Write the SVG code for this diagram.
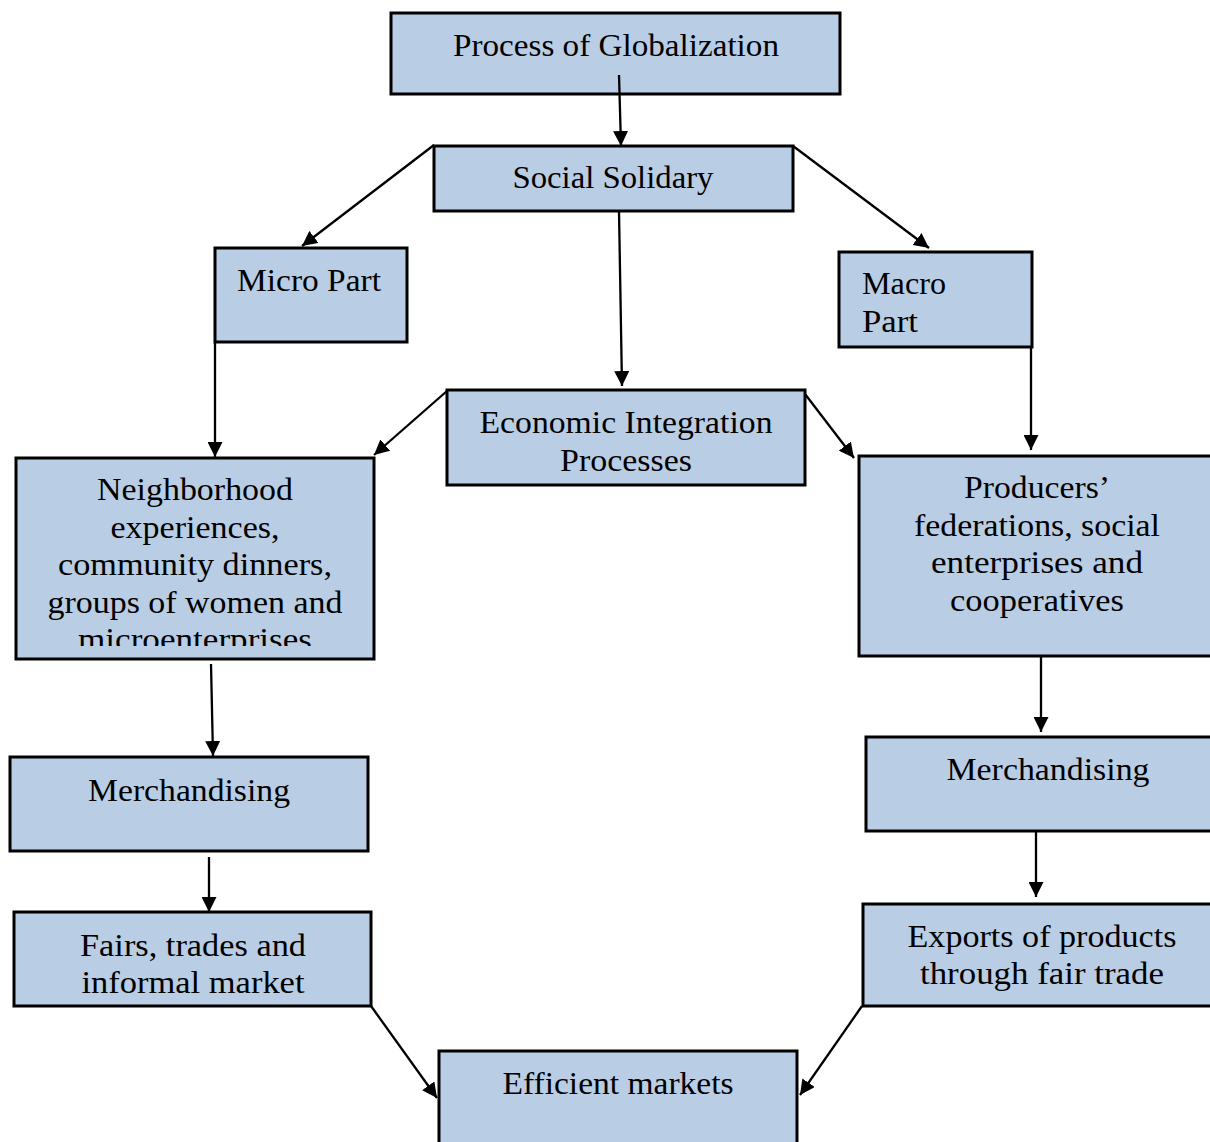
<svg xmlns="http://www.w3.org/2000/svg" width="1210" height="1142" viewBox="0 0 1210 1142">
<style>
.box{fill:#b9cde4;stroke:#000;stroke-width:3}
.t{font-family:"Liberation Serif","DejaVu Serif",serif;font-size:31px;fill:#000;text-anchor:middle}
.tl{font-family:"Liberation Serif","DejaVu Serif",serif;font-size:31px;fill:#000}
.c{stroke:#000;stroke-width:2.3;fill:none;marker-end:url(#ah)}
</style>
<defs>
<marker id="ah" viewBox="0 0 10 10" refX="10" refY="5" markerUnits="userSpaceOnUse" markerWidth="15" markerHeight="15" orient="auto">
<path d="M0,0 L10,5 L0,10 z" fill="#000"/>
</marker>
<clipPath id="clipN"><rect x="0" y="440" width="400" height="206"/></clipPath>
</defs>
<rect width="1210" height="1142" fill="#fff"/>
<g id="n1"><rect class="box" x="391" y="13" width="449" height="81"/><text class="t" x="616" y="56" textLength="326" lengthAdjust="spacingAndGlyphs">Process of Globalization</text></g>
<g id="n2"><rect class="box" x="434" y="146" width="359" height="65"/><text class="t" x="613" y="188" textLength="201" lengthAdjust="spacingAndGlyphs">Social Solidary</text></g>
<g id="n3"><rect class="box" x="215" y="248" width="192" height="94"/><text class="t" x="309" y="291" textLength="144" lengthAdjust="spacingAndGlyphs">Micro Part</text></g>
<g id="n4"><rect class="box" x="839" y="252" width="193" height="95"/><text class="tl" x="862" y="294" textLength="84" lengthAdjust="spacingAndGlyphs">Macro</text><text class="tl" x="862" y="332" textLength="56" lengthAdjust="spacingAndGlyphs">Part</text></g>
<g id="n5"><rect class="box" x="447" y="390" width="358" height="95"/><text class="t" x="626" y="433" textLength="293" lengthAdjust="spacingAndGlyphs">Economic Integration</text><text class="t" x="626" y="471" textLength="132" lengthAdjust="spacingAndGlyphs">Processes</text></g>
<g id="n6"><rect class="box" x="16" y="458" width="358" height="201"/>
<g clip-path="url(#clipN)">
<text class="t" x="195" y="500" textLength="196" lengthAdjust="spacingAndGlyphs">Neighborhood</text>
<text class="t" x="195" y="538" textLength="169" lengthAdjust="spacingAndGlyphs">experiences,</text>
<text class="t" x="195" y="575" textLength="274" lengthAdjust="spacingAndGlyphs">community dinners,</text>
<text class="t" x="195" y="613" textLength="295" lengthAdjust="spacingAndGlyphs">groups of women and</text>
<text class="t" x="195" y="650" textLength="234" lengthAdjust="spacingAndGlyphs">microenterprises</text>
</g></g>
<g id="n7"><rect class="box" x="859" y="456" width="360" height="200"/>
<text class="t" x="1037" y="498" textLength="146" lengthAdjust="spacingAndGlyphs">Producers’</text>
<text class="t" x="1037" y="536" textLength="246" lengthAdjust="spacingAndGlyphs">federations, social</text>
<text class="t" x="1037" y="573" textLength="212" lengthAdjust="spacingAndGlyphs">enterprises and</text>
<text class="t" x="1037" y="611" textLength="174" lengthAdjust="spacingAndGlyphs">cooperatives</text></g>
<g id="n8"><rect class="box" x="10" y="757" width="358" height="94"/><text class="t" x="189" y="801" textLength="202" lengthAdjust="spacingAndGlyphs">Merchandising</text></g>
<g id="n9"><rect class="box" x="866" y="737" width="354" height="94"/><text class="t" x="1048" y="780" textLength="203" lengthAdjust="spacingAndGlyphs">Merchandising</text></g>
<g id="n10"><rect class="box" x="14" y="912" width="357" height="94"/><text class="t" x="193" y="956" textLength="226" lengthAdjust="spacingAndGlyphs">Fairs, trades and</text><text class="t" x="193" y="993" textLength="223" lengthAdjust="spacingAndGlyphs">informal market</text></g>
<g id="n11"><rect class="box" x="863" y="904" width="357" height="102"/><text class="t" x="1042" y="947" textLength="269" lengthAdjust="spacingAndGlyphs">Exports of products</text><text class="t" x="1042" y="984" textLength="244" lengthAdjust="spacingAndGlyphs">through fair trade</text></g>
<g id="n12"><rect class="box" x="439" y="1051" width="358" height="100"/><text class="t" x="618" y="1094" textLength="231" lengthAdjust="spacingAndGlyphs">Efficient markets</text></g>
<g id="connectors">
<line class="c" x1="619" y1="75" x2="621" y2="146"/>
<line class="c" x1="434" y1="145" x2="302" y2="246"/>
<line class="c" x1="793" y1="146" x2="929" y2="248"/>
<line class="c" x1="619" y1="211" x2="622" y2="386"/>
<line class="c" x1="215" y1="342" x2="215" y2="457"/>
<line class="c" x1="1031" y1="347" x2="1031" y2="450"/>
<line class="c" x1="447" y1="391" x2="374" y2="455"/>
<line class="c" x1="805" y1="394" x2="854" y2="458"/>
<line class="c" x1="211" y1="664" x2="213" y2="756"/>
<line class="c" x1="1041" y1="655" x2="1041" y2="732"/>
<line class="c" x1="209" y1="857" x2="209" y2="912"/>
<line class="c" x1="1036" y1="831" x2="1036" y2="897"/>
<line class="c" x1="371" y1="1006" x2="437" y2="1098"/>
<line class="c" x1="862" y1="1006" x2="800" y2="1095"/>
</g>
</svg>
